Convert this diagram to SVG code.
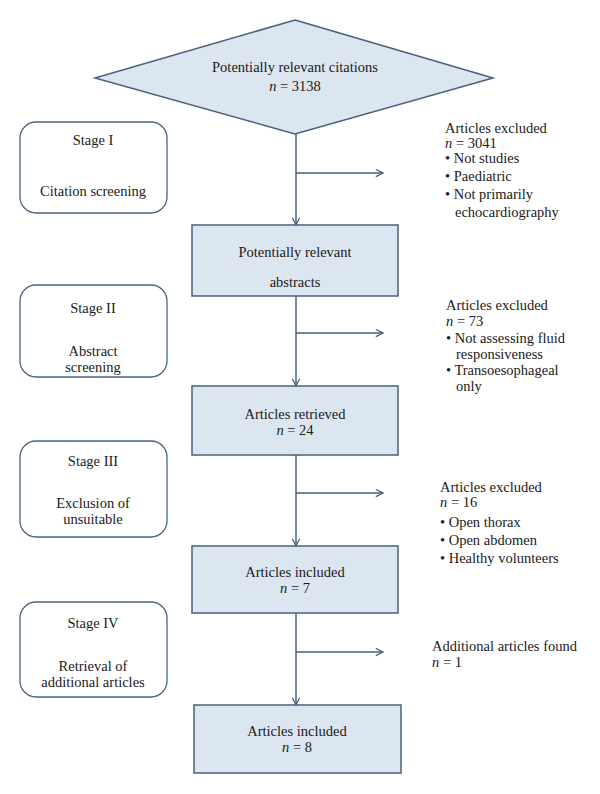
<svg xmlns="http://www.w3.org/2000/svg" width="600" height="794" viewBox="0 0 600 794">
<defs>
<marker id="arr" viewBox="0 0 10 10" refX="9" refY="5" markerWidth="9" markerHeight="9" markerUnits="userSpaceOnUse" orient="auto">
<path d="M1,1 L9,5 L1,9" fill="none" stroke="#4a5f7e" stroke-width="1.4"/>
</marker>
<style>
.box{fill:#dce6f1;stroke:#4a5f7e;stroke-width:1.5}
.stage{fill:#ffffff;stroke:#4a6386;stroke-width:1.3}
.ln{fill:none;stroke:#4a5f7e;stroke-width:1.5}
.c{text-anchor:middle}
</style>
</defs>
<rect width="600" height="794" fill="#ffffff"/>
<g id="connectors">
<line class="ln" x1="296" y1="134" x2="296" y2="225" marker-end="url(#arr)"/>
<line class="ln" x1="296" y1="173" x2="383" y2="173" marker-end="url(#arr)"/>
<line class="ln" x1="296" y1="296" x2="296" y2="386" marker-end="url(#arr)"/>
<line class="ln" x1="296" y1="333" x2="383" y2="333" marker-end="url(#arr)"/>
<line class="ln" x1="296" y1="455" x2="296" y2="546" marker-end="url(#arr)"/>
<line class="ln" x1="296" y1="493" x2="383" y2="493" marker-end="url(#arr)"/>
<line class="ln" x1="296" y1="613" x2="296" y2="705" marker-end="url(#arr)"/>
<line class="ln" x1="296" y1="652" x2="383" y2="652" marker-end="url(#arr)"/>
</g>
<g font-family="'Liberation Serif', 'DejaVu Serif', serif" font-size="14.5" fill="#1a1a1a">
<g id="citations">
<polygon class="box" points="295,20 493,78 295,134 95,78"/>
<text class="c" x="295" y="72">Potentially relevant citations</text>
<text class="c" x="295" y="91"><tspan font-style="italic">n</tspan> = 3138</text>
</g>
<g id="stage1">
<rect class="stage" x="20" y="122" width="147" height="91" rx="16"/>
<text class="c" x="93" y="145">Stage I</text>
<text class="c" x="93" y="196">Citation screening</text>
</g>
<g id="excl1">
<text x="445" y="133">Articles excluded</text>
<text x="445" y="148"><tspan font-style="italic">n</tspan> = 3041</text>
<text x="445" y="163">• Not studies</text>
<text x="445" y="181">• Paediatric</text>
<text x="445" y="199">• Not primarily</text>
<text x="455" y="217">echocardiography</text>
</g>
<g id="abstracts">
<rect class="box" x="192" y="225" width="206" height="71"/>
<text class="c" x="295" y="257">Potentially relevant</text>
<text class="c" x="295" y="287">abstracts</text>
</g>
<g id="stage2">
<rect class="stage" x="20" y="285" width="147" height="92" rx="16"/>
<text class="c" x="93" y="313">Stage II</text>
<text class="c" x="93" y="356">Abstract</text>
<text class="c" x="93" y="372">screening</text>
</g>
<g id="excl2">
<text x="446" y="310">Articles excluded</text>
<text x="446" y="326"><tspan font-style="italic">n</tspan> = 73</text>
<text x="446" y="343">• Not assessing fluid</text>
<text x="456" y="359">responsiveness</text>
<text x="446" y="375">• Transoesophageal</text>
<text x="456" y="391">only</text>
</g>
<g id="retrieved">
<rect class="box" x="192" y="386" width="206" height="69"/>
<text class="c" x="295" y="419">Articles retrieved</text>
<text class="c" x="295" y="435"><tspan font-style="italic">n</tspan> = 24</text>
</g>
<g id="stage3">
<rect class="stage" x="20" y="441" width="147" height="96" rx="16"/>
<text class="c" x="93" y="466">Stage III</text>
<text class="c" x="93" y="508">Exclusion of</text>
<text class="c" x="93" y="524">unsuitable</text>
</g>
<g id="excl3">
<text x="440" y="492">Articles excluded</text>
<text x="440" y="507"><tspan font-style="italic">n</tspan> = 16</text>
<text x="440" y="527">• Open thorax</text>
<text x="440" y="545">• Open abdomen</text>
<text x="440" y="563">• Healthy volunteers</text>
</g>
<g id="included7">
<rect class="box" x="192" y="546" width="206" height="67"/>
<text class="c" x="295" y="577">Articles included</text>
<text class="c" x="295" y="593"><tspan font-style="italic">n</tspan> = 7</text>
</g>
<g id="stage4">
<rect class="stage" x="20" y="602" width="147" height="95" rx="16"/>
<text class="c" x="93" y="628">Stage IV</text>
<text class="c" x="93" y="671">Retrieval of</text>
<text class="c" x="93" y="687">additional articles</text>
</g>
<g id="additional">
<text x="432" y="651">Additional articles found</text>
<text x="432" y="667"><tspan font-style="italic">n</tspan> = 1</text>
</g>
<g id="included8">
<rect class="box" x="194" y="705" width="207" height="68"/>
<text class="c" x="297" y="736">Articles included</text>
<text class="c" x="297" y="752"><tspan font-style="italic">n</tspan> = 8</text>
</g>
</g>
</svg>
